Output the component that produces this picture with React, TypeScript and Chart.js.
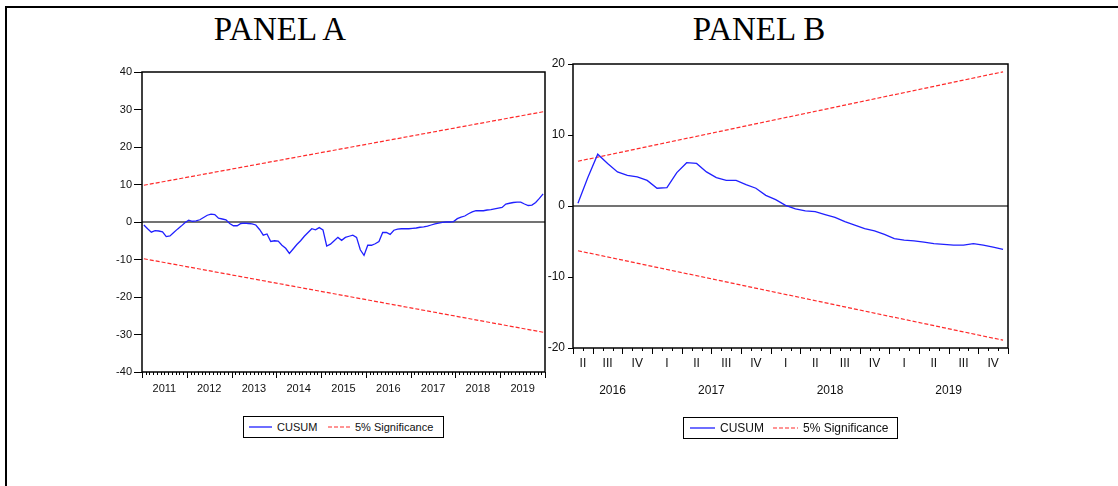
import React, { useEffect, useRef } from "react";
import { Chart, registerables } from "chart.js";
Chart.register(...registerables);

// ---------- DATA ----------
// Panel A: monthly CUSUM, 2011M1 .. 2019M12
const cusumA = [
  -0.8, -1.8, -2.7, -2.3, -2.4, -2.6, -3.9, -3.7, -2.8, -1.9, -1.1, -0.2,
  0.5, 0.2, 0.3, 0.6, 1.2, 1.8, 2.1, 2.0, 1.0, 0.8, 0.6, -0.4,
  -1.0, -1.0, -0.4, -0.3, -0.4, -0.5, -0.8, -2.0, -3.5, -3.2, -5.2, -5.0,
  -5.1, -6.2, -7.0, -8.4, -7.2, -6.0, -5.0, -3.8, -2.8, -1.8, -2.1, -1.5,
  -2.1, -6.4, -5.9, -5.0, -4.1, -4.9, -4.1, -3.8, -3.5, -4.1, -7.4, -8.9,
  -6.2, -6.2, -5.8, -5.2, -2.8, -2.8, -3.3, -2.2, -1.9, -1.8, -1.8, -1.8,
  -1.7, -1.6, -1.4, -1.3, -1.1, -0.8, -0.5, -0.3, -0.1, 0.0, 0.0, 0.1,
  0.9, 1.3, 1.6, 2.2, 2.7, 3.0, 3.0, 3.0, 3.2, 3.3, 3.5, 3.7,
  3.9, 4.8, 5.0, 5.2, 5.3, 5.3, 4.8, 4.4, 4.5, 5.2, 6.3, 7.5,
];
const sigAUpper = [9.8, 29.4];
const sigALower = [-9.8, -29.4];
const yearsA = ["2011", "2012", "2013", "2014", "2015", "2016", "2017", "2018", "2019"];
const yTicksA = [-40, -30, -20, -10, 0, 10, 20, 30, 40];

// Panel B: monthly CUSUM, 2016M5 .. 2019M12
const cusumB = [
  0.4, 4.0, 7.3, 6.0, 4.8, 4.3, 4.1, 3.6, 2.5, 2.6, 4.7, 6.1,
  6.0, 4.8, 4.0, 3.6, 3.6, 3.0, 2.5, 1.5, 0.9, 0.1, -0.4, -0.7,
  -0.8, -1.2, -1.6, -2.2, -2.7, -3.2, -3.5, -4.0, -4.6, -4.8, -4.9, -5.1,
  -5.3, -5.4, -5.5, -5.5, -5.3, -5.5, -5.8, -6.1,
];
const sigBUpper = [6.3, 18.9];
const sigBLower = [-6.3, -18.9];
const quartersB = ["II", "III", "IV", "I", "II", "III", "IV", "I", "II", "III", "IV", "I", "II", "III", "IV"];
const yearsB = ["2016", "2017", "2018", "2019"];
const yTicksB = [-20, -10, 0, 10, 20];

const FONT = "'Liberation Sans', Arial, sans-serif";
const BLUE = "#2020ff";
const RED = "#ff2a2a";

function lineData(vals: number[]) {
  return vals.map((v, i) => ({ x: i + 0.5, y: v }));
}
function endpoints(vals: number[], n: number) {
  return [
    { x: 0.5, y: vals[0] },
    { x: n - 0.5, y: vals[1] },
  ];
}

function makeFramePlugin(nMonths: number, isMajor: (k: number) => boolean) {
  return {
    id: "frameTicks",
    beforeDatasetsDraw(chart: any) {
      const { ctx, chartArea, scales } = chart;
      const y0 = scales.y.getPixelForValue(0);
      ctx.save();
      ctx.strokeStyle = "#444";
      ctx.lineWidth = 1.6;
      ctx.beginPath();
      ctx.moveTo(chartArea.left, y0);
      ctx.lineTo(chartArea.right, y0);
      ctx.stroke();
      ctx.restore();
    },
    afterDraw(chart: any) {
      const { ctx, chartArea, scales } = chart;
      ctx.save();
      ctx.strokeStyle = "#000";
      ctx.lineWidth = 1.5;
      ctx.strokeRect(chartArea.left, chartArea.top, chartArea.right - chartArea.left, chartArea.bottom - chartArea.top);
      ctx.lineWidth = 1;
      ctx.beginPath();
      for (let k = 0; k <= nMonths; k++) {
        const x = Math.round(scales.x.getPixelForValue(k)) + 0.5;
        const len = isMajor(k) ? 6 : 3;
        ctx.moveTo(x, chartArea.bottom);
        ctx.lineTo(x, chartArea.bottom + len);
      }
      ctx.stroke();
      ctx.restore();
    },
  };
}

function fixedTicks(positions: number[]) {
  return (scale: any) => {
    scale.ticks = positions.map((v) => ({ value: v }));
  };
}

function buildA(canvas: HTMLCanvasElement) {
  const n = cusumA.length;
  const yearCenters = yearsA.map((_, j) => j * 12 + 6);
  return new Chart(canvas, {
    type: "line",
    data: {
      datasets: [
        { data: lineData(cusumA), borderColor: BLUE, borderWidth: 1.3, pointRadius: 0, tension: 0 },
        { data: endpoints(sigAUpper, n), borderColor: RED, borderWidth: 1.2, borderDash: [4, 2], pointRadius: 0 },
        { data: endpoints(sigALower, n), borderColor: RED, borderWidth: 1.2, borderDash: [4, 2], pointRadius: 0 },
      ],
    },
    options: {
      animation: false,
      responsive: false,
      devicePixelRatio: 1,
      layout: { padding: { top: 72, right: 15, left: 0, bottom: 0 } },
      plugins: { legend: { display: false }, tooltip: { enabled: false } },
      scales: {
        x: {
          type: "linear",
          min: 0,
          max: n,
          grid: { display: false, drawTicks: false },
          border: { display: false },
          afterBuildTicks: fixedTicks(yearCenters),
          afterFit: (s: any) => { s.height = 38; },
          ticks: {
            autoSkip: false,
            maxRotation: 0,
            padding: 10,
            color: "#111",
            font: { family: FONT, size: 11 },
            callback: (_v: any, i: number) => yearsA[i],
          },
        },
        y: {
          type: "linear",
          min: -40,
          max: 40,
          grid: { drawOnChartArea: false, tickLength: 8, color: "#000" },
          border: { display: false },
          afterBuildTicks: fixedTicks(yTicksA),
          afterFit: (s: any) => { s.width = 142; },
          ticks: {
            padding: 2,
            color: "#111",
            font: { family: FONT, size: 11 },
            callback: (v: any) => String(v),
          },
        },
      },
    },
    plugins: [makeFramePlugin(n, (k) => k % 12 === 0)],
  } as any);
}

function buildB(canvas: HTMLCanvasElement) {
  const n = cusumB.length;
  // month index 0 = 2016M5; quarter boundaries where (4 + k) % 3 === 0
  const qCenters = quartersB.map((_, q) => (q === 0 ? 1 : 2 + (q - 1) * 3 + 1.5));
  const yCenters = yearsB.map((_, j) => {
    const a = j === 0 ? 0 : 8 + (j - 1) * 12;
    const b = Math.min(8 + j * 12, n);
    return (a + b) / 2;
  });
  return new Chart(canvas, {
    type: "line",
    data: {
      datasets: [
        { data: lineData(cusumB), borderColor: BLUE, borderWidth: 1.3, pointRadius: 0, tension: 0 },
        { data: endpoints(sigBUpper, n), borderColor: RED, borderWidth: 1.2, borderDash: [4, 2], pointRadius: 0 },
        { data: endpoints(sigBLower, n), borderColor: RED, borderWidth: 1.2, borderDash: [4, 2], pointRadius: 0 },
      ],
    },
    options: {
      animation: false,
      responsive: false,
      devicePixelRatio: 1,
      layout: { padding: { top: 64, right: 12, left: 0, bottom: 0 } },
      plugins: { legend: { display: false }, tooltip: { enabled: false } },
      scales: {
        x: {
          type: "linear",
          min: 0,
          max: n,
          weight: 0,
          grid: { display: false, drawTicks: false },
          border: { display: false },
          afterBuildTicks: fixedTicks(qCenters),
          afterFit: (s: any) => { s.height = 28; },
          ticks: {
            autoSkip: false,
            maxRotation: 0,
            padding: 8,
            color: "#111",
            font: { family: FONT, size: 12 },
            callback: (_v: any, i: number) => quartersB[i],
          },
        },
        x2: {
          type: "linear",
          position: "bottom",
          min: 0,
          max: n,
          weight: 1,
          grid: { display: false, drawTicks: false },
          border: { display: false },
          afterBuildTicks: fixedTicks(yCenters),
          afterFit: (s: any) => { s.height = 34; },
          ticks: {
            autoSkip: false,
            maxRotation: 0,
            padding: 7,
            color: "#111",
            font: { family: FONT, size: 12 },
            callback: (_v: any, i: number) => yearsB[i],
          },
        },
        y: {
          type: "linear",
          min: -20,
          max: 20,
          grid: { drawOnChartArea: false, tickLength: 5, color: "#000" },
          border: { display: false },
          afterBuildTicks: fixedTicks(yTicksB),
          afterFit: (s: any) => { s.width = 33; },
          ticks: {
            padding: 3,
            color: "#111",
            font: { family: FONT, size: 12 },
            callback: (v: any) => String(v),
          },
        },
      },
    },
    plugins: [makeFramePlugin(n, (k) => (4 + k) % 3 === 0 || k === 0)],
  } as any);
}

function Legend(props: { left: number; top: number; width: number; size: number; pos: number[] }) {
  const { left, top, width, size, pos } = props;
  const h = 22;
  const cy = 11;
  return (
    <div style={{ position: "absolute", left, top, width, height: h, border: "1px solid #000", boxSizing: "border-box", fontFamily: FONT, fontSize: size, color: "#111" }}>
      <svg width={width} height={h} style={{ position: "absolute", left: -1, top: -1 }}>
        <line x1={pos[0]} y1={cy} x2={pos[1]} y2={cy} stroke={BLUE} strokeWidth={1.3} />
        <line x1={pos[3]} y1={cy} x2={pos[4]} y2={cy} stroke={RED} strokeWidth={1.2} strokeDasharray="4 2" />
      </svg>
      <span style={{ position: "absolute", left: pos[2] - 1, top: 0, lineHeight: "20px", whiteSpace: "nowrap" }}>CUSUM</span>
      <span style={{ position: "absolute", left: pos[5] - 1, top: 0, lineHeight: "20px", whiteSpace: "nowrap" }}>5% Significance</span>
    </div>
  );
}

export default function App() {
  const refA = useRef<HTMLCanvasElement>(null);
  const refB = useRef<HTMLCanvasElement>(null);
  useEffect(() => {
    const a = buildA(refA.current!);
    const b = buildB(refB.current!);
    return () => {
      a.destroy();
      b.destroy();
    };
  }, []);
  const titleStyle: React.CSSProperties = {
    position: "absolute",
    top: 13,
    width: 300,
    textAlign: "center",
    fontFamily: "'Liberation Serif', 'Times New Roman', serif",
    fontSize: 33,
    lineHeight: "33px",
    color: "#000",
  };
  return (
    <div style={{ position: "absolute", left: 0, top: 0, width: 1118, height: 486, overflow: "hidden", background: "#fff" }}>
      <div style={{ position: "absolute", left: 5, top: 6, width: 1300, height: 700, border: "2px solid #000" }} />
      <div style={{ ...titleStyle, left: 280 - 150 }}>PANEL A</div>
      <div style={{ ...titleStyle, left: 759 - 150 }}>PANEL B</div>
      <canvas ref={refA} width={560} height={410} style={{ position: "absolute", left: 0, top: 0 }} />
      <canvas ref={refB} width={480} height={410} style={{ position: "absolute", left: 540, top: 0 }} />
      <Legend left={243} top={416} width={201} size={11} pos={[6, 29, 34, 85, 109, 112]} />
      <Legend left={683} top={417} width={215} size={12} pos={[7, 32, 37, 90, 115, 120]} />
    </div>
  );
}
